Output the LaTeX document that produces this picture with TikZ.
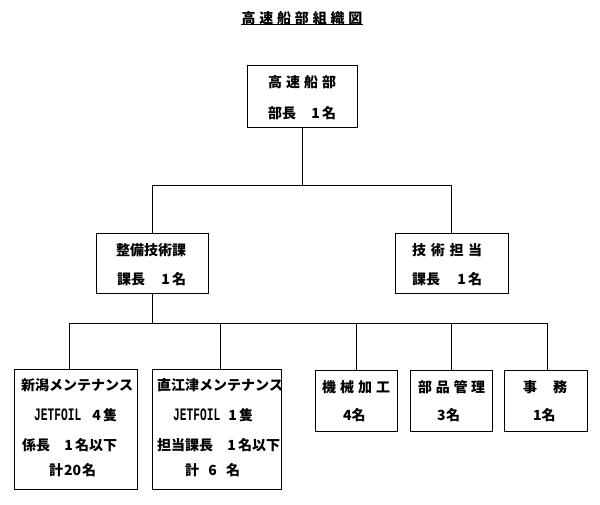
\documentclass[tikz,border=0pt]{standalone}
\usepackage{fontspec}
\usepackage{graphicx}
\setmainfont{Noto Sans CJK JP}
\newfontfamily\jmono{Liberation Mono}
\newcommand{\spr}[2]{\makebox[#1pt][s]{#2}}
\newcommand{\jetf}{\scalebox{0.8}[1.25]{\jmono\fontsize{14pt}{16pt}\selectfont\bfseries JETFOIL}}
\begin{document}
\begin{tikzpicture}[x=1pt,y=-1pt,
  box/.style={draw,line width=0.8pt,inner sep=0pt,anchor=center},
  txt/.style={inner sep=0pt,anchor=west,font=\fontsize{14pt}{16pt}\selectfont\bfseries},
  conn/.style={line width=0.8pt}]
\useasboundingbox (0,0) rectangle (600,505);
% title
\node[inner sep=0pt,font=\fontsize{14pt}{16pt}\selectfont\bfseries] (title) at (302,18) {\spr{121}{高\hfil 速\hfil 船\hfil 部\hfil 組\hfil 織\hfil 図}};
\draw[line width=0.8pt] ([yshift=1pt]title.south west) -- ([yshift=1pt]title.south east);
% boxes
\node[box,minimum width=110pt,minimum height=62pt] (top) at (302,96) {};
\node[box,minimum width=112pt,minimum height=60pt] (seibi) at (152,263) {};
\node[box,minimum width=113pt,minimum height=60pt] (gijutsu) at (451.5,263) {};
\node[box,minimum width=123pt,minimum height=120pt] (b1) at (75.5,429) {};
\node[box,minimum width=129pt,minimum height=120pt] (b2) at (216.5,429) {};
\node[box,minimum width=82pt,minimum height=61pt] (b3) at (356,400.5) {};
\node[box,minimum width=82pt,minimum height=61pt] (b4) at (451,400.5) {};
\node[box,minimum width=83pt,minimum height=61pt] (b5) at (545.5,400.5) {};
% texts
\node[txt] (t1a) at (268,82) {\spr{68}{高\hfil 速\hfil 船\hfil 部}};
\node[txt] (t1b) at (268,113) {\spr{68}{部長\hfil 1\,名}};
\node[txt] (t2a) at (116,250) {\spr{70}{整\hfil 備\hfil 技\hfil 術\hfil 課}};
\node[txt] (t2b) at (117,279) {\spr{69}{課長\hfil 1\,名}};
\node[txt] (t3a) at (412,250) {\spr{70}{技\hfil 術\hfil 担\hfil 当}};
\node[txt] (t3b) at (412,279) {\spr{70}{課長\hfil 1\,名}};
\node[txt] (t4a) at (21,385) {\spr{108}{新\hfil 潟\hfil メ\hfil ン\hfil テ\hfil ナ\hfil ン\hfil ス}};
\node[txt] (t4b) at (34,415) {\spr{83}{\jetf\hfil 4\,隻}};
\node[txt] (t4c) at (22,445) {\spr{95}{係長\hfil 1\,名以下}};
\node[txt] (t4d) at (49,470) {\spr{47}{計\hfil 20\hfil 名}};
\node[txt] (t5a) at (157,385) {\spr{123}{直\hfil 江\hfil 津\hfil メ\hfil ン\hfil テ\hfil ナ\hfil ン\hfil ス}};
\node[txt] (t5b) at (173,415) {\spr{80}{\jetf\hfil 1\,隻}};
\node[txt] (t5c) at (157,445) {\spr{123}{担当課長\hfil 1\,名以下}};
\node[txt] (t5d) at (185,470) {\spr{55}{計\hfil 6\hfil 名}};
\node[txt] (t6a) at (322,387) {\spr{68}{機\hfil 械\hfil 加\hfil 工}};
\node[txt] (t6b) at (343,415) {\spr{22}{4\hfil 名}};
\node[txt] (t7a) at (418,387) {\spr{67}{部\hfil 品\hfil 管\hfil 理}};
\node[txt] (t7b) at (437,415) {\spr{23}{3\hfil 名}};
\node[txt] (t8a) at (523,387) {\spr{44}{事\hfil 務}};
\node[txt] (t8b) at (533,415) {\spr{22}{1\hfil 名}};
% connectors
\coordinate (j1) at (302,185);
\coordinate (j2) at (152,323);
\coordinate (h1) at (69,323);
\coordinate (h2) at (220,323);
\coordinate (h3) at (356,323);
\coordinate (h4) at (451,323);
\coordinate (h5) at (547,323);
\draw[conn] (top.south) -- (j1);
\draw[conn] (j1) -| (seibi.north);
\draw[conn] (j1) -| (gijutsu.north);
\draw[conn] (seibi.south) -- (j2);
\draw[conn] (h1) -- (h5);
\draw[conn] (h1) -- (h1 |- b1.north);
\draw[conn] (h2) -- (h2 |- b2.north);
\draw[conn] (h3) -- (b3.north);
\draw[conn] (h4) -- (b4.north);
\draw[conn] (h5) -- (h5 |- b5.north);
\end{tikzpicture}
\end{document}
